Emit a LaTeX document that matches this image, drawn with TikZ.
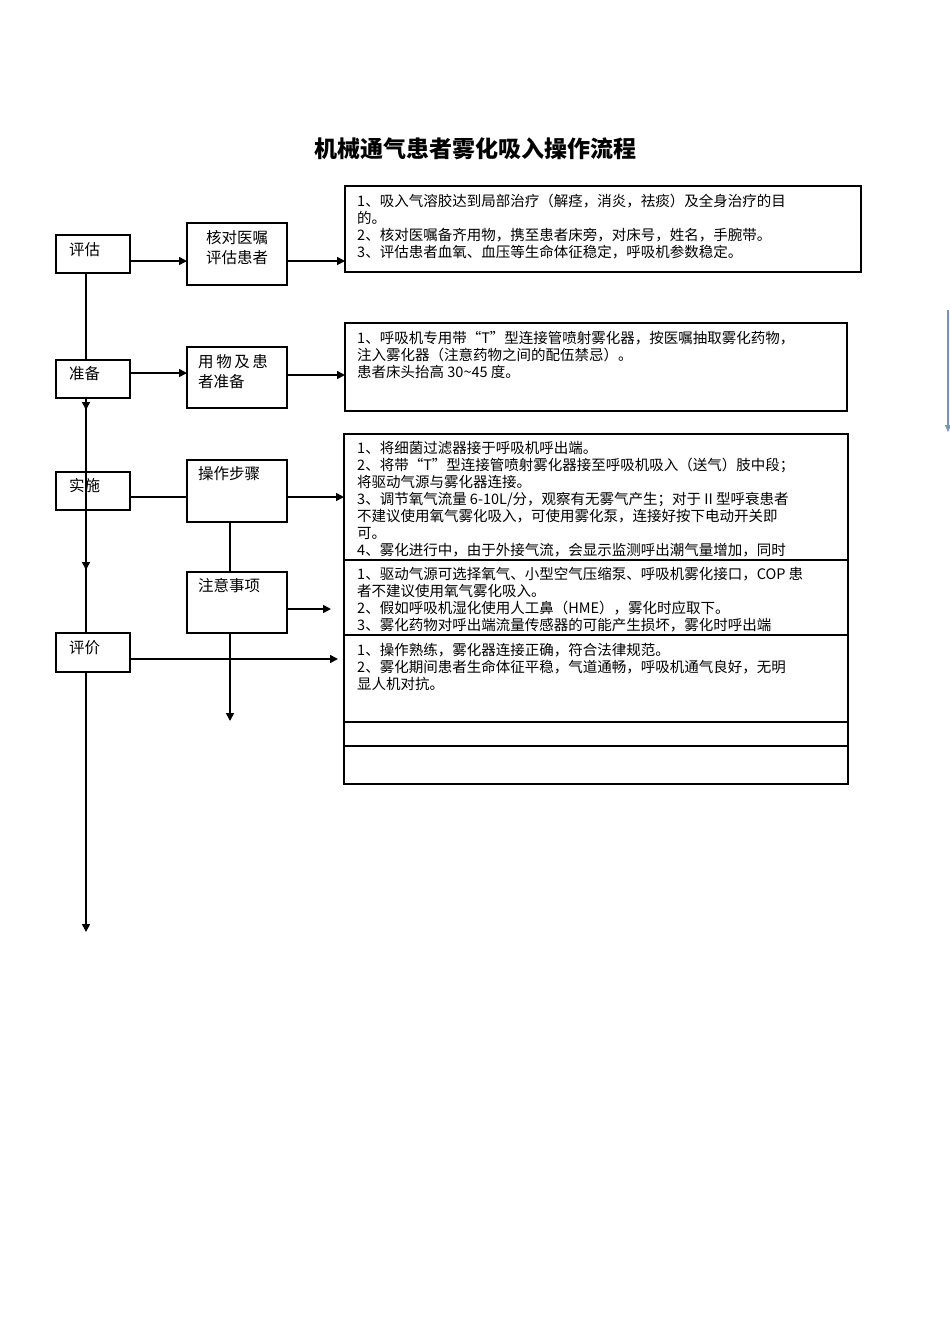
\documentclass[tikz,border=0pt]{standalone}
\usepackage{fontspec}
\setmainfont{Noto Sans CJK SC}
\usetikzlibrary{arrows.meta}
\begin{document}
\begin{tikzpicture}[x=1pt,y=-1pt,
  box/.style={draw,line width=1.6pt},
  ln/.style={line width=1.6pt},
  ar/.style={line width=1.6pt,-{Triangle[length=8pt,width=8pt]}},
  txt/.style={anchor=north west,align=left,inner sep=0pt,font=\fontsize{14.5}{17}\selectfont},
  stxt/.style={anchor=north west,align=left,inner sep=0pt,font=\fontsize{15.5}{22}\selectfont}]
\useasboundingbox (0,0) rectangle (950,1344);
\node[font=\fontsize{23}{26}\selectfont\bfseries] (title) at (475,149) {机械通气患者雾化吸入操作流程};
% left boxes
\draw[box] (56,235) rectangle (130,273); \node[stxt] (t1) at (69,242) {评估};
\draw[box] (56,360) rectangle (130,398); \node[stxt] (t2) at (69,366) {准备};
\draw[box] (56,472) rectangle (130,510); \node[stxt] (t3) at (69,478) {实施};
\draw[box] (56,633) rectangle (130,672); \node[stxt] (t4) at (69,640) {评价};
% middle boxes
\draw[box] (187,223) rectangle (287,285); \node[stxt,anchor=north,align=center,font=\fontsize{15.5}{20}\selectfont] (m1) at (237,230) {核对医嘱\\评估患者};
\draw[box] (187,347) rectangle (287,408); \node[stxt,font=\fontsize{15.5}{20}\selectfont] (m2) at (198,354) {用\,物\,及\,患\\者准备};
\draw[box] (187,460) rectangle (287,522); \node[stxt] (m3) at (198,466) {操作步骤};
\draw[box] (187,572) rectangle (287,633); \node[stxt] (m4) at (198,578) {注意事项};
% right boxes
\draw[box] (345,186) rectangle (861,272);
\node[txt] (r1) at (357,194) {1、吸入气溶胶达到局部治疗（解痉，消炎，祛痰）及全身治疗的目\\的。\\2、核对医嘱备齐用物，携至患者床旁，对床号，姓名，手腕带。\\3、评估患者血氧、血压等生命体征稳定，呼吸机参数稳定。};
\draw[box] (345,323) rectangle (847,411);
\node[txt] (r2) at (357,331) {1、呼吸机专用带“T”型连接管喷射雾化器，按医嘱抽取雾化药物，\\注入雾化器（注意药物之间的配伍禁忌）。\\患者床头抬高 30\textasciitilde45 度。};
\begin{scope}
\clip (344,434) rectangle (848,560);
\node[txt] (r3) at (357,441) {1、将细菌过滤器接于呼吸机呼出端。\\2、将带“T”型连接管喷射雾化器接至呼吸机吸入（送气）肢中段；\\将驱动气源与雾化器连接。\\3、调节氧气流量 6-10L/分，观察有无雾气产生；对于 II 型呼衰患者\\不建议使用氧气雾化吸入，可使用雾化泵，连接好按下电动开关即\\可。\\4、雾化进行中，由于外接气流，会显示监测呼出潮气量增加，同时};
\end{scope}
\begin{scope}
\clip (344,560) rectangle (848,635);
\node[txt] (r4) at (357,567) {1、驱动气源可选择氧气、小型空气压缩泵、呼吸机雾化接口，COP 患\\者不建议使用氧气雾化吸入。\\2、假如呼吸机湿化使用人工鼻（HME），雾化时应取下。\\3、雾化药物对呼出端流量传感器的可能产生损坏，雾化时呼出端};
\end{scope}
\draw[box] (344,434) rectangle (848,560);
\draw[box] (344,560) rectangle (848,635);
\draw[box] (344,635) rectangle (848,722);
\node[txt] (r5) at (357,643) {1、操作熟练，雾化器连接正确，符合法律规范。\\2、雾化期间患者生命体征平稳，气道通畅，呼吸机通气良好，无明\\显人机对抗。};
\draw[box] (344,722) rectangle (848,746);
\draw[box] (344,746) rectangle (848,784);
% main spine
\coordinate (s0) at (86,273); \coordinate (s1) at (86,360);
\draw[ln] (s0) -- (s1);
\draw[ar] (86,398) -- (86,410);
\draw[ar] (86,405) -- (86,570);
\draw[ln] (86,565) -- (86,633);
\coordinate (s5) at (86,932);
\draw[ar] (86,672) -- (s5);
% horizontal
\draw[ar] (130,261) -- (187,261);
\draw[ar] (287,261) -- (345,261);
\draw[ar] (130,373) -- (187,373);
\draw[ar] (287,375) -- (345,375);
\draw[ln] (130,497) -- (187,497);
\draw[ar] (287,497) -- (344,497);
\draw[ln] (230,522) -- (230,572);
\draw[ar] (287,609) -- (331,609);
\draw[ar] (130,659) -- (338,659);
\draw[ar] (230,633) -- (230,721);
% blue arrow at right edge
\draw[line width=1.2pt,color={rgb,255:red,110;green,150;blue,200},-{Triangle[length=7pt,width=6pt]}] (948,310) -- (948,432);
\end{tikzpicture}
\end{document}
